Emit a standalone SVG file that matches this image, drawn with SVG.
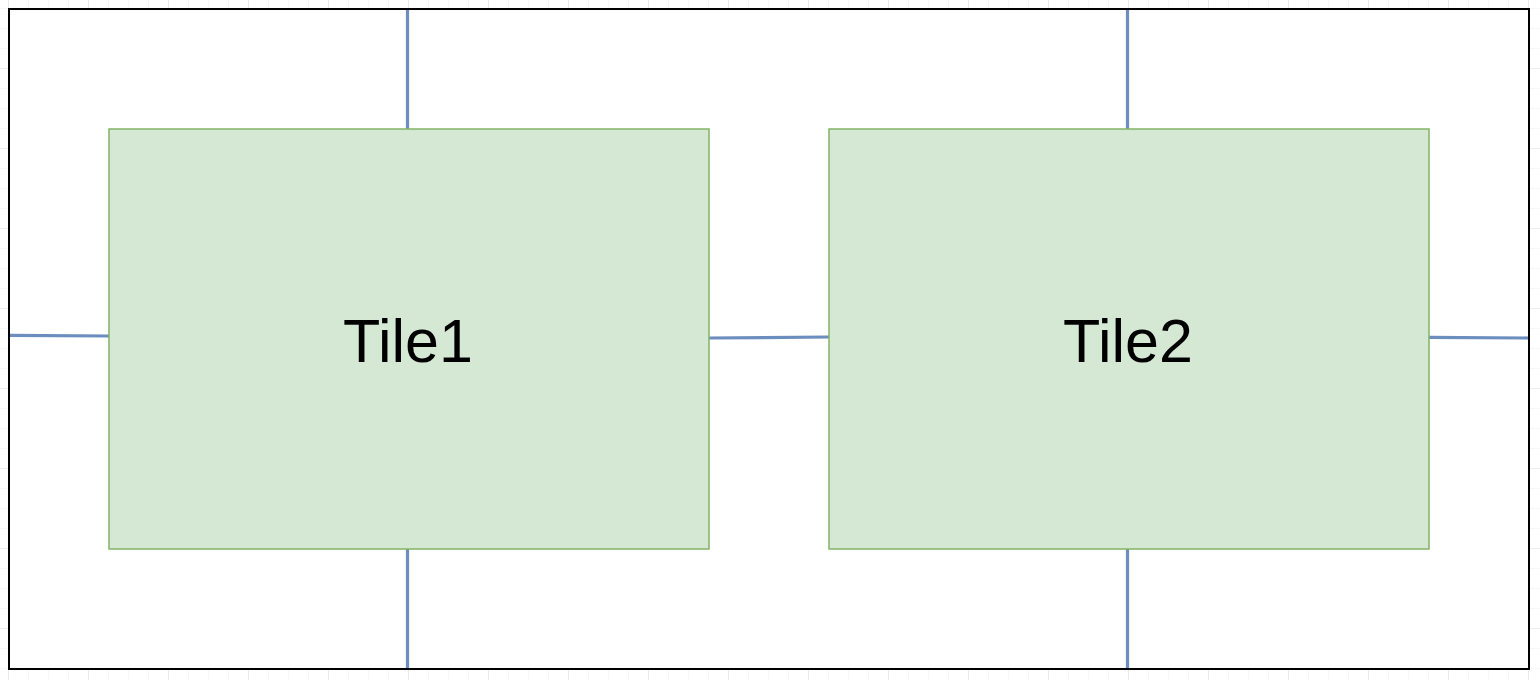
<svg xmlns="http://www.w3.org/2000/svg" width="1540" height="680" viewBox="0 0 1540 680">
  <defs>
    <pattern id="minor" x="8" y="8" width="20" height="20" patternUnits="userSpaceOnUse">
      <path d="M0 0H20M0 0V20" fill="none" stroke="#f0f0f0" stroke-width="1"/>
    </pattern>
    <pattern id="major" x="8" y="-12" width="80" height="80" patternUnits="userSpaceOnUse">
      <path d="M0 0H80M0 0V80" fill="none" stroke="#e0e0e0" stroke-width="1"/>
    </pattern>
  </defs>
  <style>
    .tile { fill: #d5e8d4; stroke: #82b366; stroke-width: 1.5; }
    .label { font-family: "Liberation Sans", Arial, sans-serif; font-size: 61px; fill: #000000; text-anchor: middle; }
    .conn { stroke: #6c8ebf; stroke-width: 3.2; fill: none; }
  </style>
  <rect x="0" y="0" width="1540" height="680" fill="#ffffff"/>
  <rect x="0" y="0" width="1540" height="680" fill="url(#minor)"/>
  <rect x="0" y="0" width="1540" height="680" fill="url(#major)"/>
  <g id="frame">
    <rect x="9" y="9" width="1520" height="660" fill="#ffffff" stroke="#000000" stroke-width="2"/>
  </g>
  <g id="connectors">
    <line class="conn" x1="407.5" y1="10" x2="407.5" y2="129"/>
    <line class="conn" x1="407.5" y1="549" x2="407.5" y2="668"/>
    <line class="conn" x1="1127.5" y1="10" x2="1127.5" y2="129"/>
    <line class="conn" x1="1127.5" y1="549" x2="1127.5" y2="668"/>
    <line class="conn" x1="10" y1="335.3" x2="109" y2="336"/>
    <line class="conn" x1="709" y1="338" x2="829" y2="337"/>
    <line class="conn" x1="1429" y1="337.3" x2="1528" y2="338"/>
  </g>
  <g id="tile1">
    <rect class="tile" x="109" y="129" width="600" height="420"/>
    <text class="label" x="408" y="362">Tile1</text>
  </g>
  <g id="tile2">
    <rect class="tile" x="829" y="129" width="600" height="420"/>
    <text class="label" x="1128" y="362">Tile2</text>
  </g>
</svg>
